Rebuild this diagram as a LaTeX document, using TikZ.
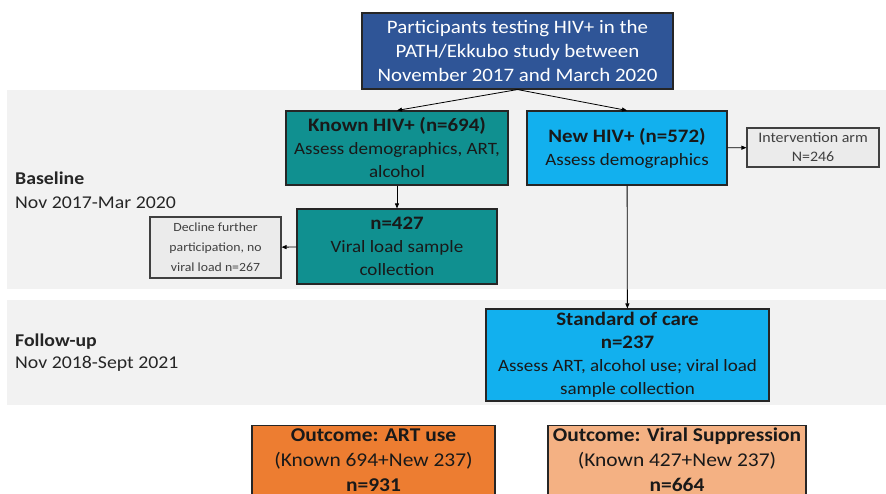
\documentclass[tikz,border=0pt]{standalone}
\usepackage{fontspec}
\setmainfont{Carlito}[FakeStretch=1.1]
\usetikzlibrary{positioning,arrows.meta}
\definecolor{titleblue}{HTML}{2F5597}
\definecolor{knownteal}{HTML}{109090}
\definecolor{newblue}{HTML}{12B0EE}
\definecolor{sidegray}{HTML}{EBEBEB}
\definecolor{bandgray}{HTML}{F2F2F2}
\definecolor{artorange}{HTML}{ED7D31}
\definecolor{vsorange}{HTML}{F4B183}
\newcommand{\hd}[1]{{\fontsize{19}{23}\selectfont\bfseries #1}}
\tikzset{
  box/.style={
    draw=black!85,
    line width=1.1pt,
    align=center,
    inner sep=1pt,
    text=black!90,
    font=\fontsize{17.3}{23}\selectfont
  },
  sidebox/.style={
    box,
    fill=sidegray,
    draw=black!75,
    text=black!75,
    font=\fontsize{12.5}{20}\selectfont
  },
  outbox/.style={
    box,
    anchor=north,
    minimum height=69,
    font=\fontsize{19.5}{25}\selectfont
  },
  phase/.style={
    anchor=west,
    inner sep=0pt,
    text=black!85,
    font=\fontsize{18}{22}\selectfont
  },
  flow/.style={
    -{Triangle[length=5pt,width=4pt]},
    line width=0.8pt
  }
}

\begin{document}
\begin{tikzpicture}[x=1pt, y=-1pt]
  \useasboundingbox (0,0) rectangle (886,493);
  \clip (0,0) rectangle (886,493);
  % phase bands
  \fill[bandgray] (7,90) rectangle (886,289);
  \fill[bandgray] (7,300) rectangle (886,405);
  \node[phase] (base) at (15,178) {\bfseries Baseline};
  \node[phase] (basedate) at (15,203) {Nov 2017-Mar 2020};
  \node[phase] (fup) at (15,342) {\bfseries Follow-up};
  \node[phase] (fupdate) at (15,364) {Nov 2018-Sept 2021};

  \node[box, fill=titleblue, text=white, minimum width=311, minimum height=76,
    font=\fontsize{19}{24}\selectfont] (all) at (517.5,51)
    {Participants testing HIV+ in the\\PATH/Ekkubo study between\\November 2017 and March 2020};
  \node[box, fill=knownteal, minimum width=222, minimum height=74] (known) at (397,148)
    {\hd{Known HIV+ (n=694)}\\Assess demographics, ART,\\alcohol};
  \node[box, fill=newblue, minimum width=200, minimum height=74] (new) at (627,148)
    {\hd{New HIV+ (n=572)}\\Assess demographics};
  \node[sidebox, minimum width=132, minimum height=39, font=\fontsize{14.5}{19}\selectfont] (interv) at (813,147.5)
    {Intervention arm\\N=246};
  \node[box, fill=knownteal, minimum width=200, minimum height=75] (vl) at (397,246.5)
    {\hd{n=427}\\Viral load sample\\collection};
  \node[sidebox, minimum width=131, minimum height=61] (decline) at (215.5,247.5)
    {Decline further\\participation, no\\viral load n=267};
  \node[box, fill=newblue, minimum width=283, minimum height=92] (soc) at (627.5,355)
    {\hd{Standard of care}\\\hd{n=237}\\Assess ART, alcohol use; viral load\\sample collection};
  \node[outbox, fill=artorange, minimum width=243] (art) at (373.5,425)
    {\textbf{Outcome: ART use}\\(Known 694+New 237)\\\textbf{n=931}};
  \node[outbox, fill=vsorange, minimum width=258] (vs) at (677,425)
    {\textbf{Outcome: Viral Suppression}\\(Known 427+New 237)\\\textbf{n=664}};

  \draw[flow] (all.south) -- (known.north);
  \draw[flow] (all.south) -- (new.north);
  \draw[flow] (known) -- (vl);
  \draw[flow] (vl) -- (decline);
  \draw[flow] (new) -- (interv);
  \draw[flow] (new) -- (soc);
\end{tikzpicture}
\end{document}
